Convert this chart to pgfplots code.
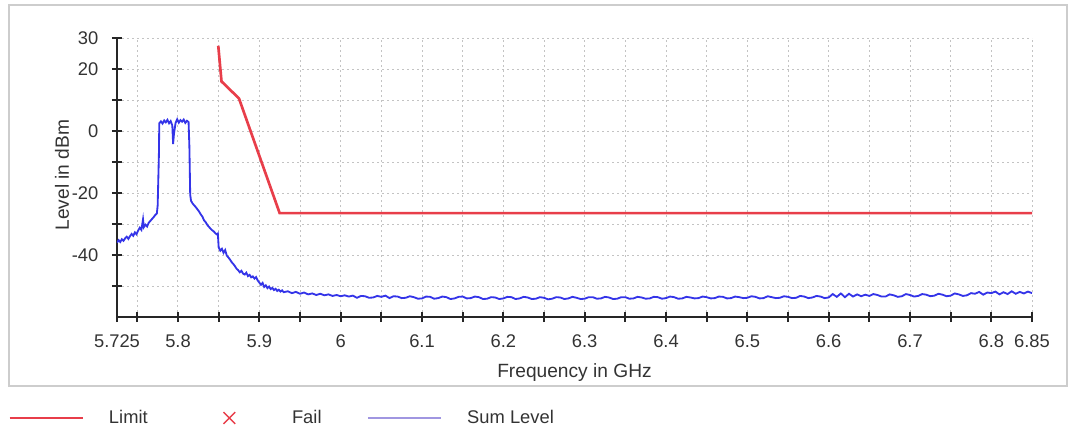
\documentclass[border=0pt]{standalone}
\usepackage{fontspec}
\setmainfont{Liberation Sans}
\usepackage{pgfplots}
\usepackage{pgfplotstable}
\pgfplotsset{compat=1.18}

\definecolor{limitred}{RGB}{232,62,74}
\definecolor{sumblue}{RGB}{52,52,232}
\definecolor{legblue}{RGB}{160,150,225}
\definecolor{gridgray}{RGB}{195,195,195}
\definecolor{framegray}{RGB}{205,205,205}

\pgfplotsset{
  legline/.style={legend image code/.code={%
      \path[draw=none, fill=none] (0pt,0pt) -- (59.6pt,0pt);
      \draw[##1] (0pt,0pt) -- (44pt,0pt);}},
  failmark/.style={legend image code/.code={%
      \path[draw=none, fill=none] (0pt,0pt) -- (59.6pt,0pt);
      \draw[limitred, line width=0.9pt] (18.5pt,-3.5pt) -- (25.5pt,3.5pt)
        (18.5pt,3.5pt) -- (25.5pt,-3.5pt);}},
}

% sum level trace
\pgfplotstableread{
f      lvl
5.725  -36.0
5.727  -35.2
5.729  -35.8
5.731  -34.9
5.733  -35.4
5.735  -34.6
5.737  -34.1
5.739  -34.8
5.741  -33.9
5.743  -33.2
5.745  -33.8
5.747  -32.7
5.749  -33.3
5.751  -32.1
5.753  -31.2
5.755  -31.9
5.757  -28.5
5.758  -31.0
5.760  -30.2
5.762  -30.8
5.764  -29.6
5.766  -29.0
5.768  -28.4
5.770  -27.8
5.772  -27.1
5.774  -26.6
5.775  -24.0
5.7765 -8.0
5.777  2.5
5.779  3.1
5.781  2.4
5.783  3.4
5.785  2.8
5.787  3.6
5.789  2.5
5.791  3.2
5.793  1.8
5.794  -4.2
5.795  -1.0
5.797  2.6
5.799  3.8
5.801  2.7
5.803  3.5
5.805  3.0
5.807  3.7
5.809  2.6
5.811  3.3
5.813  2.9
5.814  -5.0
5.815  -20.5
5.816  -22.5
5.818  -23.4
5.820  -24.0
5.822  -24.6
5.824  -25.3
5.826  -26.0
5.828  -26.9
5.830  -27.6
5.832  -28.8
5.834  -29.4
5.836  -30.3
5.838  -30.9
5.840  -31.5
5.842  -32.0
5.844  -32.4
5.846  -33.0
5.848  -33.4
5.849  -33.1
5.850  -37.5
5.852  -38.6
5.854  -38.0
5.856  -39.3
5.858  -38.4
5.860  -40.2
5.862  -40.8
5.864  -41.5
5.866  -42.3
5.868  -42.9
5.870  -43.6
5.872  -44.4
5.874  -44.9
5.876  -45.6
5.878  -45.1
5.880  -46.0
5.882  -46.3
5.884  -45.7
5.886  -46.8
5.888  -46.4
5.890  -47.2
5.892  -46.9
5.894  -47.6
5.896  -47.1
5.898  -48.2
5.900  -48.9
5.902  -49.6
5.904  -49.0
5.906  -50.3
5.908  -49.8
5.910  -50.7
5.912  -50.2
5.914  -51.0
5.916  -50.6
5.918  -51.3
5.920  -50.9
5.922  -51.6
5.924  -51.2
5.926  -51.8
5.928  -51.4
5.930  -52.0
5.935  -51.7
5.940  -52.3
5.945  -51.9
5.950  -52.5
5.955  -52.1
5.960  -52.7
5.965  -52.4
5.970  -52.9
5.975  -52.5
5.980  -53.0
5.985  -52.7
5.990  -53.2
5.995  -52.9
6.000  -53.3
6.005  -53.0
6.01   -53.4
6.015  -53.1
6.02   -53.8
6.025  -53.2
6.03   -53.3
6.035  -53.8
6.04   -53.7
6.045  -53.2
6.05   -53.5
6.055  -53.1
6.06   -53.9
6.065  -53.3
6.07   -53.4
6.075  -53.9
6.08   -53.8
6.085  -53.3
6.09   -53.6
6.095  -54.1
6.10   -54.0
6.105  -53.4
6.11   -53.5
6.115  -54.1
6.12   -53.9
6.125  -53.4
6.13   -53.6
6.135  -54.2
6.14   -54.0
6.145  -53.5
6.15   -53.4
6.155  -54.0
6.16   -53.9
6.165  -53.4
6.17   -53.6
6.175  -54.2
6.18   -54.1
6.185  -53.6
6.19   -53.7
6.195  -54.2
6.20   -54.0
6.205  -53.5
6.21   -53.6
6.215  -54.2
6.22   -54.0
6.225  -53.5
6.23   -53.7
6.235  -54.2
6.24   -54.1
6.245  -53.6
6.25   -53.8
6.255  -54.3
6.26   -54.1
6.265  -53.6
6.27   -53.7
6.275  -54.2
6.28   -54.0
6.285  -53.5
6.29   -53.8
6.295  -54.2
6.30   -54.1
6.305  -53.6
6.31   -53.6
6.315  -54.1
6.32   -54.0
6.325  -53.5
6.33   -53.7
6.335  -54.2
6.34   -54.1
6.345  -53.6
6.35   -53.6
6.355  -54.1
6.36   -54.0
6.365  -53.5
6.37   -53.7
6.375  -54.1
6.38   -54.0
6.385  -53.5
6.39   -53.6
6.395  -54.1
6.40   -53.9
6.405  -53.4
6.41   -53.6
6.415  -54.1
6.42   -54.0
6.425  -53.5
6.43   -53.7
6.435  -54.0
6.44   -53.9
6.445  -53.4
6.45   -53.6
6.455  -54.0
6.46   -53.9
6.465  -53.4
6.47   -53.5
6.475  -54.0
6.48   -53.9
6.485  -53.4
6.49   -53.6
6.495  -53.9
6.50   -53.8
6.505  -53.3
6.51   -53.5
6.515  -54.0
6.52   -53.9
6.525  -53.3
6.53   -53.6
6.535  -53.9
6.54   -53.8
6.545  -53.3
6.55   -53.5
6.555  -53.9
6.56   -53.8
6.565  -53.2
6.57   -53.4
6.575  -53.9
6.58   -53.7
6.585  -53.2
6.59   -53.4
6.595  -53.9
6.60   -53.7
6.605  -52.6
6.61   -53.5
6.615  -52.4
6.62   -53.6
6.625  -52.5
6.63   -53.4
6.635  -52.7
6.64   -53.3
6.645  -52.8
6.65   -53.2
6.655  -52.6
6.66   -52.9
6.665  -53.4
6.67   -53.4
6.675  -52.7
6.68   -53.0
6.685  -53.5
6.69   -53.3
6.695  -52.6
6.70   -52.9
6.705  -53.4
6.71   -53.2
6.715  -52.6
6.72   -52.8
6.725  -53.3
6.73   -53.1
6.735  -52.5
6.74   -52.8
6.745  -53.3
6.75   -53.1
6.755  -52.4
6.76   -52.7
6.765  -53.2
6.77   -53.0
6.775  -52.3
6.78   -52.5
6.785  -51.9
6.79   -52.8
6.795  -52.1
6.80   -52.3
6.805  -51.8
6.81   -52.7
6.815  -52.0
6.82   -52.6
6.825  -51.7
6.83   -52.5
6.835  -51.9
6.84   -52.4
6.845  -51.8
6.85   -52.3
}\sumlevel

\begin{document}
\begin{tikzpicture}
\path[use as bounding box] (-70.2pt,-67.8pt) rectangle (572.4pt,190.2pt);
\draw[framegray, line width=1pt] (-64.8pt,-41.4pt) rectangle (570pt,187.2pt);

\begin{axis}[
    scale only axis,
    width=549pt, height=167.4pt,
    xmin=5.725, xmax=6.85,
    ymin=-60, ymax=30,
    axis lines=left,
    axis line style={-, line width=1.2pt, black!85},
    tick align=center,
    major tick length=6pt,
    tick style={line width=1.2pt, black!85},
    xtick={5.725,5.75,5.8,5.85,5.9,5.95,6,6.05,6.1,6.15,6.2,6.25,6.3,6.35,6.4,6.45,6.5,6.55,6.6,6.65,6.7,6.75,6.8,6.85},
    xticklabels={5.725,{},5.8,{},5.9,{},6,{},6.1,{},6.2,{},6.3,{},6.4,{},6.5,{},6.6,{},6.7,{},6.8,6.85},
    ytick={-50,-40,-30,-20,-10,0,10,20,30},
    yticklabels={{},-40,{},-20,{},0,{},20,30},
    tick label style={font=\fontsize{11}{13}\selectfont, text=black!80},
    xticklabel style={anchor=center, inner sep=0pt, yshift=-11.5pt},
    yticklabel style={anchor=east, inner sep=0pt, xshift=-8pt},
    grid=major,
    major grid style={gridgray, line width=0.6pt, dash pattern=on 1.2pt off 1.8pt},
    xlabel={Frequency in GHz},
    ylabel={Level in dBm},
    every axis x label/.style={at={(axis description cs:0.5,-0.2)}, anchor=center,
        font=\fontsize{11.5}{13}\selectfont, text=black!80},
    every axis y label/.style={at={(axis description cs:-0.0601,0.509)}, anchor=center,
        rotate=90, font=\fontsize{11.5}{13}\selectfont, text=black!80},
    legend columns=3,
    legend style={draw=none, fill=none, inner sep=0pt,
        at={(-0.11913,-0.362)}, anchor=west,
        font=\fontsize{11}{13}\selectfont, text=black!80,
        nodes={inner sep=0pt},
        /tikz/every even column/.append style={column sep=27pt}},
]

\addplot[sumblue, line width=1.1pt, forget plot] table[x=f, y=lvl] {\sumlevel};

\addplot[limitred, line width=1.6pt, forget plot] coordinates {
    (5.8495,27.5) (5.8535,16.0) (5.875,10.5) (5.925,-26.5) (6.85,-26.5)
};

\addlegendimage{legline, limitred, line width=1.6pt}
\addlegendentry{Limit}
\addlegendimage{failmark}
\addlegendentry{Fail}
\addlegendimage{legline, legblue, line width=1.6pt}
\addlegendentry{Sum Level}
\end{axis}
\end{tikzpicture}
\end{document}
